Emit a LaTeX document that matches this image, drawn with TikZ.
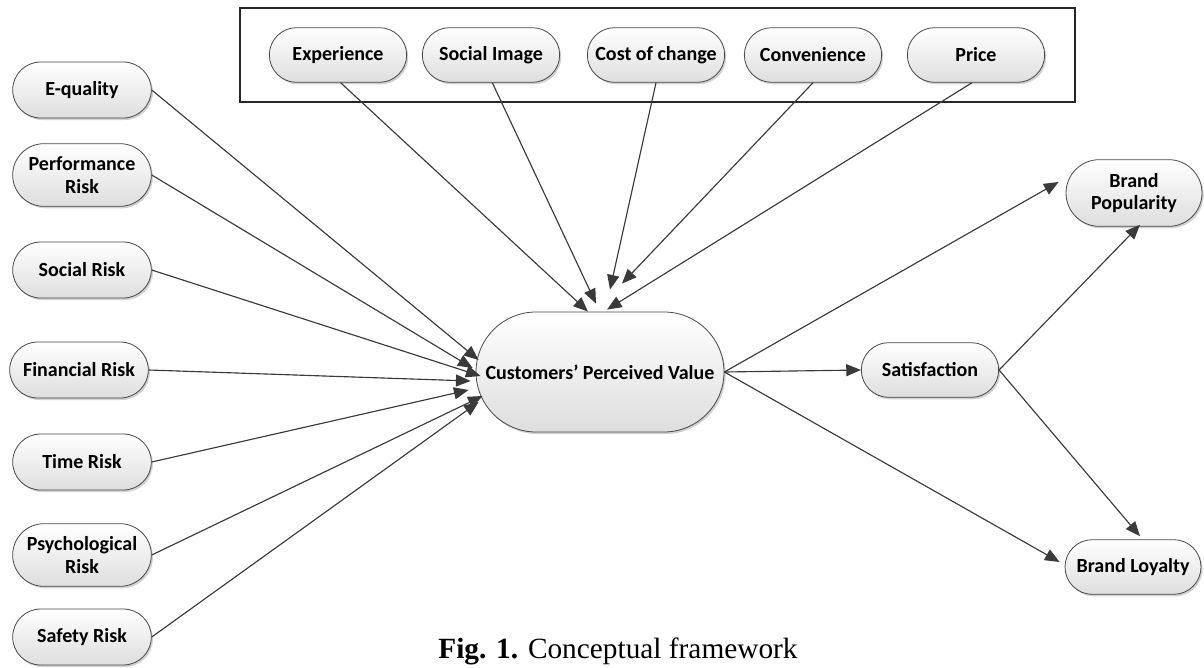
\documentclass[tikz,border=0pt]{standalone}
\usepackage{fontspec}
\setmainfont{Carlito}
\newfontfamily\capfont{Liberation Serif}
\usetikzlibrary{shapes.misc,arrows.meta,shadows}
\definecolor{linec}{HTML}{3A3A3A}
\definecolor{borderc}{HTML}{484848}
\tikzset{
  box/.style={rounded rectangle, draw=borderc, line width=0.6pt,
    top color=white, bottom color=black!13,
    drop shadow={shadow xshift=1.2pt, shadow yshift=-1.5pt, fill=black, opacity=0.18},
    align=center, inner sep=2pt,
    font=\fontsize{15}{17}\selectfont\bfseries},
  lbox/.style={box, minimum width=108pt, minimum height=42pt},
  tbox/.style={box, minimum width=107pt, minimum height=41pt},
  conn/.style={draw=linec, line width=0.85pt, -{Triangle[length=11pt,width=9pt]}, fill=linec},
}
\begin{document}
\begin{tikzpicture}[x=0.75pt,y=-0.75pt]
\useasboundingbox (0,0) rectangle (1204,668);
% top frame
\draw[line width=0.8pt, draw=black!85] (240,8) rectangle (1075,102);
% top nodes
\node[tbox] (exp)  at (338,55) {Experience};
\node[tbox] (simg) at (491,55) {Social Image};
\node[tbox] (coc)  at (656,55) {Cost of change};
\node[tbox] (conv) at (813,55) {Convenience};
\node[tbox] (price) at (976,55) {Price};
% left nodes
\node[lbox] (eq)   at (82,90)  {E-quality};
\node[lbox, minimum height=47pt] (perf) at (82,175) {Performance\\Risk};
\node[lbox] (soc)  at (82,270) {Social Risk};
\node[lbox] (fin)  at (79,370) {Financial Risk};
\node[lbox] (time) at (82,462) {Time Risk};
\node[lbox, minimum height=47pt] (psy)  at (82,555) {Psychological\\Risk};
\node[lbox] (safe) at (82,637) {Safety Risk};
% center
\node[box, minimum width=190pt, minimum height=90pt] (cpv) at (600,372) {Customers’ Perceived Value};
% right nodes
\node[tbox] (sat) at (930,370) {Satisfaction};
\node[box, minimum width=106pt, minimum height=50pt] (bpop) at (1134,193) {Brand\\Popularity};
\node[box, minimum width=106pt, minimum height=41pt] (bloy) at (1133,567) {Brand Loyalty};
% caption
\node[font=\capfont\fontsize{22}{25}\selectfont] (cap) at (618,651) {\textbf{Fig. 1.} Conceptual framework};
% left connectors
\draw[conn] (eq.east)   -- ([shift={(3,-12)}]cpv.west);
\draw[conn] (perf.east) -- ([shift={(-3,-4)}]cpv.west);
\draw[conn] (soc.east)  -- ([shift={(5,4)}]cpv.west);
\draw[conn] (fin.east)  -- ([shift={(-5,9)}]cpv.west);
\draw[conn] (time.east) -- ([shift={(-7,18)}]cpv.west);
\draw[conn] (psy.east)  -- ([shift={(7,24)}]cpv.west);
\draw[conn] (safe.east) -- ([shift={(3,30)}]cpv.west);
% top connectors
\draw[conn] ([xshift=2pt]exp.south)   -- ([shift={(-12,0)}]cpv.north);
\draw[conn] ([xshift=1pt]simg.south)  -- ([shift={(-4,-8)}]cpv.north);
\draw[conn] (coc.south)   -- ([shift={(10,-22)}]cpv.north);
\draw[conn] (conv.south)  -- ([shift={(22,-28)}]cpv.north);
\draw[conn] ([xshift=-3pt]price.south) -- ([shift={(7,-2)}]cpv.north);
% right connectors
\draw[conn] (cpv.east) -- (sat.west);
\draw[conn] (cpv.east) -- ([shift={(-7,-11)}]bpop.west);
\draw[conn] (cpv.east) -- ([shift={(-5,-5)}]bloy.west);
\draw[conn] (sat.east) -- ([shift={(6,-2)}]bpop.south);
\draw[conn] (sat.east) -- ([shift={(7,-3)}]bloy.north);
\end{tikzpicture}
\end{document}
